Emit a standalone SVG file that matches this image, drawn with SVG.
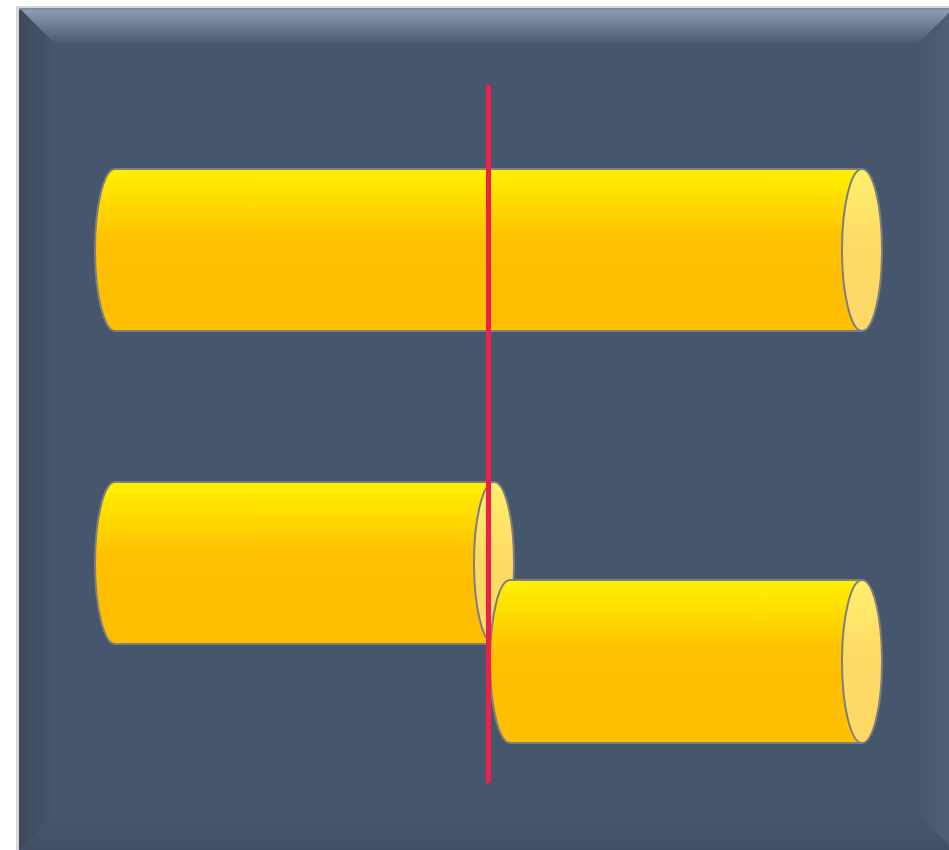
<svg xmlns="http://www.w3.org/2000/svg" width="949" height="850" viewBox="0 0 949 850">
<defs>
<linearGradient id="body" x1="0" y1="0" x2="0" y2="1">
<stop offset="0" stop-color="#FFF200"/>
<stop offset="0.45" stop-color="#FFC000"/>
<stop offset="1" stop-color="#FFBE00"/>
</linearGradient>
<linearGradient id="cap" x1="0" y1="0" x2="0" y2="1">
<stop offset="0" stop-color="#FFF06A"/>
<stop offset="0.5" stop-color="#FFD966"/>
<stop offset="1" stop-color="#FFD966"/>
</linearGradient>
<linearGradient id="topb" x1="0" y1="0" x2="0" y2="1">
<stop offset="0" stop-color="#8FA0B8"/>
<stop offset="1" stop-color="#4A5A70"/>
</linearGradient>
<linearGradient id="leftb" x1="0" y1="0" x2="1" y2="0">
<stop offset="0" stop-color="#3C495B"/>
<stop offset="1" stop-color="#45556B"/>
</linearGradient>
<linearGradient id="botb" x1="0" y1="1" x2="0" y2="0">
<stop offset="0" stop-color="#425065"/>
<stop offset="1" stop-color="#46566C"/>
</linearGradient>
<linearGradient id="rightb" x1="1" y1="0" x2="0" y2="0">
<stop offset="0" stop-color="#4F6078"/>
<stop offset="1" stop-color="#46566C"/>
</linearGradient>
<style>
.cyl{fill:url(#body);stroke:#7F7F7F;stroke-width:2}
.end{fill:url(#cap);stroke:#7F7F7F;stroke-width:2}
</style>
</defs>
<rect width="949" height="850" fill="#FFFFFF"/>
<rect x="16" y="6" width="940" height="850" fill="#D8D8D8"/>
<g id="panel">
<rect x="19" y="8" width="935" height="850" fill="#46566C"/>
<polygon points="19,8 954,8 919,43 54,43" fill="url(#topb)"/>
<polygon points="19,8 54,43 54,815 19,850" fill="url(#leftb)"/>
<polygon points="19,850 54,815 919,815 954,850" fill="url(#botb)"/>
<polygon points="954,8 919,43 919,815 954,850" fill="url(#rightb)"/>
<rect x="19" y="8" width="935" height="2" fill="#7C8CA2"/>
</g>
<g id="cylinder1">
<path class="cyl" d="M115,169 L862,169 L862,331 L115,331 A20,81 0 0 1 115,169 Z"/>
<ellipse class="end" cx="862" cy="250" rx="20" ry="81"/>
</g>
<g id="cylinder2">
<path class="cyl" d="M115,482 L494,482 L494,644 L115,644 A20,81 0 0 1 115,482 Z"/>
<ellipse class="end" cx="494" cy="563" rx="20" ry="81"/>
</g>
<g id="cylinder3">
<path class="cyl" d="M510,580 L862,580 L862,743 L510,743 A20,81.5 0 0 1 510,580 Z"/>
<ellipse class="end" cx="862" cy="661.5" rx="20" ry="81.5"/>
</g>
<g id="connectors">
<line x1="488.5" y1="85" x2="488.5" y2="783" stroke="#EE2049" stroke-width="5"/>
</g>
</svg>
